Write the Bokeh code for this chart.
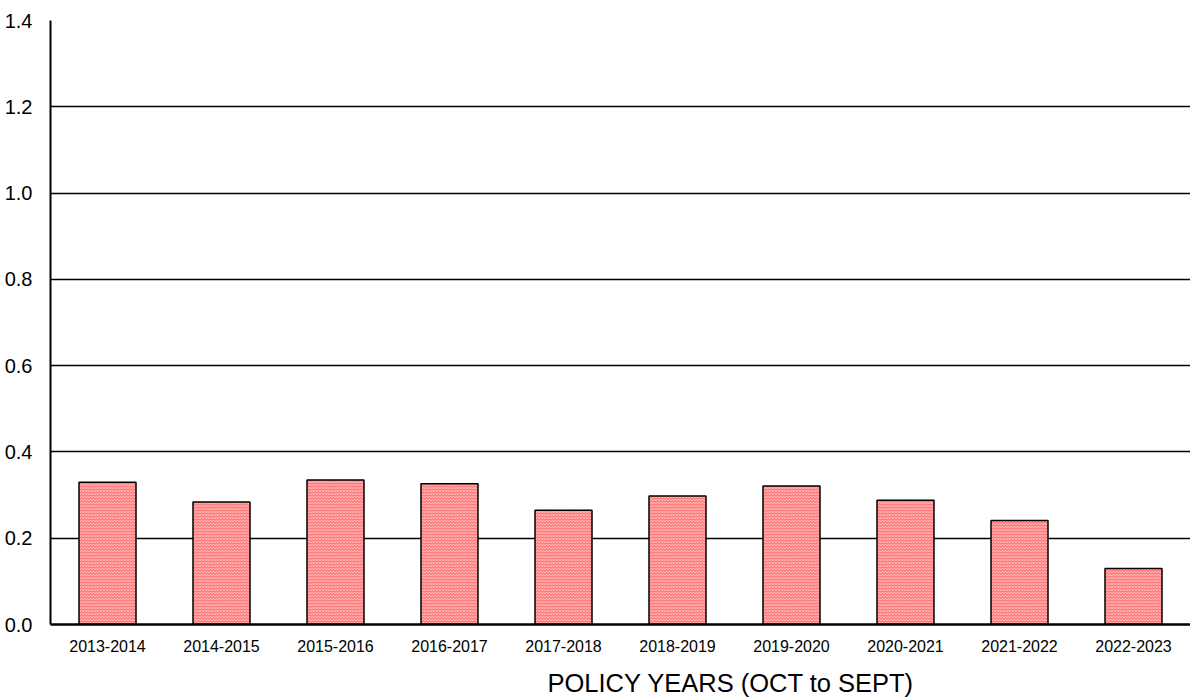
from bokeh.plotting import figure
from bokeh.models import Title, FixedTicker, NumeralTickFormatter
from bokeh.embed import file_html
from bokeh.resources import INLINE

years = ["2013-2014", "2014-2015", "2015-2016", "2016-2017", "2017-2018",
         "2018-2019", "2019-2020", "2020-2021", "2021-2022", "2022-2023"]
values = [0.330, 0.284, 0.335, 0.326, 0.265, 0.298, 0.321, 0.288, 0.241, 0.130]
y_ticks = [0.0, 0.2, 0.4, 0.6, 0.8, 1.0, 1.2, 1.4]
x_title = "POLICY YEARS (OCT to SEPT)"

FONT = "Liberation Sans"

p = figure(x_range=years, y_range=(0, 1.4), width=1190, height=698,
           output_backend="svg", toolbar_location=None,
           min_border_left=50, min_border_right=0, min_border_top=20,
           min_border_bottom=73)
p.x_range.range_padding = 0
p.outline_line_color = None
p.background_fill_color = "white"
p.border_fill_color = "white"

p.vbar(x=years, top=values, width=0.5, bottom=0,
       fill_color="#ff7c7c", hatch_pattern="horizontal_wave",
       hatch_color="white", hatch_scale=3, hatch_weight=1, hatch_alpha=0.6,
       line_color="black", line_width=1.5)

p.yaxis.ticker = FixedTicker(ticks=y_ticks)
p.yaxis.formatter = NumeralTickFormatter(format="0.0")
p.yaxis.major_tick_line_color = None
p.yaxis.minor_tick_line_color = None
p.yaxis.axis_line_width = 2
p.yaxis.axis_line_color = "black"
p.yaxis.major_label_text_font = FONT
p.yaxis.major_label_text_font_size = "20px"
p.yaxis.major_label_text_color = "black"
p.yaxis.major_label_standoff = 12

p.xaxis.major_tick_line_color = None
p.xaxis.minor_tick_line_color = None
p.xaxis.axis_line_width = 2.5
p.xaxis.axis_line_color = "black"
p.xaxis.major_label_text_font = FONT
p.xaxis.major_label_text_font_size = "16px"
p.xaxis.major_label_text_color = "black"
p.xaxis.major_label_standoff = 9
p.xaxis.axis_label = " "
p.xaxis.axis_label_text_font_size = "6.5px"
p.xaxis.axis_label_standoff = 0

p.xgrid.grid_line_color = None
p.ygrid.grid_line_color = "black"
p.ygrid.grid_line_width = 1.3

t = Title(text=x_title, align="left", offset=497, text_font=FONT,
          text_font_size="25.5px", text_font_style="normal",
          text_color="black", standoff=4)
p.add_layout(t, "below")

open("out.html", "w").write(file_html(p, INLINE))
